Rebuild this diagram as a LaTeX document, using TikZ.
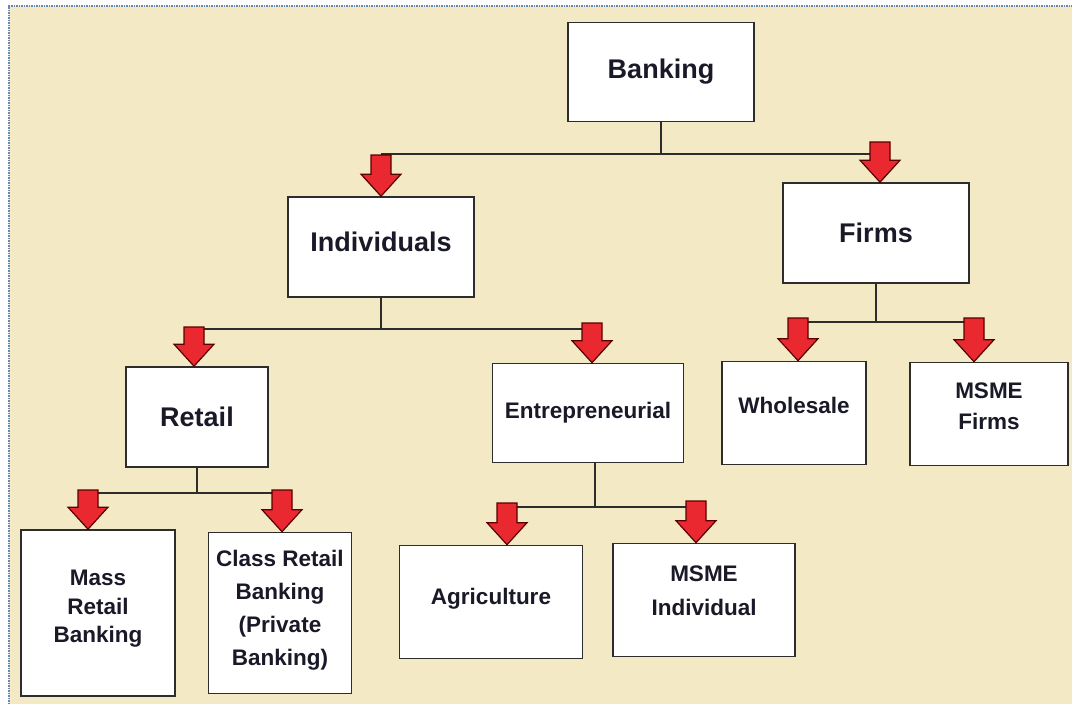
\documentclass[tikz,border=0pt]{standalone}
\usepackage{fontspec}
\setmainfont{Liberation Sans}
\usepackage{tikz}
\definecolor{myBeige}{RGB}{243,234,197}
\definecolor{myRed}{RGB}{233,40,48}
\definecolor{myFrame}{RGB}{100,135,180}
\definecolor{myLine}{RGB}{45,45,45}
\definecolor{myText}{RGB}{25,25,40}
\usetikzlibrary{calc}
\newcommand{\bigfont}{\bfseries\fontsize{27}{32}\selectfont}
\newcommand{\smallfont}{\bfseries\fontsize{22.5}{31.5}\selectfont}
% fat red arrow: #1 top point, #2 node anchor at the tip
\newcommand{\redarrow}[2]{%
  \path [redarr] let \p1=(#1), \p2=(#2) in
    (\x1-10pt,\y1) -- (\x1+10pt,\y1) -- (\x1+10pt,\y2+22pt) -- (\x1+20pt,\y2+22pt)
    -- (\x1,\y2) -- (\x1-20pt,\y2+22pt) -- (\x1-10pt,\y2+22pt) -- cycle;}
\tikzset{
  box/.style={draw=myLine,fill=white,line width=1.6pt,shape=rectangle,inner sep=0,align=center,text=myText,font=\smallfont},
  bigbox/.style={box,font=\bigfont},
  tree/.style={draw=myLine,line width=1.6pt},
  redarr/.style={draw=red!35!black,fill=myRed,line width=1.2pt,line join=miter},
}
\begin{document}
\begin{tikzpicture}[x=1pt,y=-1pt]
  \useasboundingbox (0,0) rectangle (1072,704);
  \fill [myBeige] (9,6) rectangle (1072,704);
  \draw [myFrame,line width=2.5pt,dash pattern=on 1.5pt off 1pt] (9,704) -- (9,6) -- (1072,6);

  % boxes
  \node (banking) [bigbox,minimum width=186pt,minimum height=99pt] at (661,72) {Banking};
  \node (indiv) [bigbox,minimum width=186pt,minimum height=100pt,text depth=10pt] at (381,247) {Individuals};
  \node (firms) [bigbox,minimum width=186pt,minimum height=100pt] at (876,233) {Firms};
  \node (retail) [bigbox,minimum width=142pt,minimum height=100pt] at (197,417) {Retail};
  \node (entre) [box,minimum width=191pt,minimum height=99pt] at (588,413) {Entrepreneurial};
  \node (whole) [box,minimum width=144pt,minimum height=103pt,text depth=16pt] at (794,413) {Wholesale};
  \node (msmef) [box,minimum width=158pt,minimum height=103pt,text depth=16pt] at (989,414) {MSME\\Firms};
  \node (mass) [box,minimum width=154pt,minimum height=166pt,text depth=13pt,
    font=\bfseries\fontsize{22.5}{28.5}\selectfont] at (98,613) {Mass\\Retail\\Banking};
  \node (class) [box,minimum width=143pt,minimum height=161pt,text depth=10pt,
    font=\bfseries\fontsize{22.5}{33}\selectfont] at (280,613) {Class Retail\\Banking\\(Private\\Banking)};
  \node (agri) [box,minimum width=183pt,minimum height=113pt,text depth=11pt] at (491,602) {Agriculture};
  \node (msmei) [box,minimum width=182pt,minimum height=113pt,text depth=18pt,
    font=\bfseries\fontsize{22.5}{34}\selectfont] at (704,600) {MSME\\Individual};

  % tree lines
  \draw [tree] (banking.south) -- (banking.south |- 0,154);
  \draw [tree] (381,154) -- (880,154);
  \draw [tree] (indiv.south) -- (indiv.south |- 0,329);
  \draw [tree] (194,329) -- (592,329);
  \draw [tree] (firms.south) -- (firms.south |- 0,322);
  \draw [tree] (798,322) -- (974,322);
  \draw [tree] (retail.south) -- (retail.south |- 0,493);
  \draw [tree] (88,493) -- (282,493);
  \draw [tree] (595,463) -- (595,507);
  \draw [tree] (507,507) -- (696,507);

  % arrows
  \redarrow{381,155}{indiv.north}
  \redarrow{880,142}{firms.north}
  \redarrow{194,327}{retail.north}
  \redarrow{592,323}{entre.north}
  \redarrow{798,318}{whole.north}
  \redarrow{974,318}{msmef.north}
  \redarrow{88,490}{mass.north}
  \redarrow{282,490}{class.north}
  \redarrow{507,503}{agri.north}
  \redarrow{696,501}{msmei.north}
\end{tikzpicture}
\end{document}
